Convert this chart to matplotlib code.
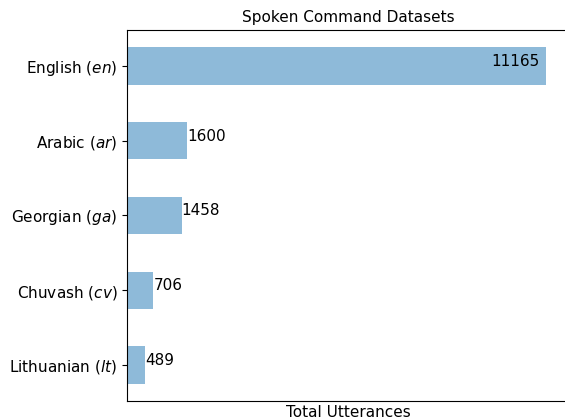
import matplotlib
matplotlib.use("Agg")
import matplotlib.pyplot as plt

# Data
languages = ["English ($en$)", "Arabic ($ar$)", "Georgian ($ga$)", "Chuvash ($cv$)", "Lithuanian ($lt$)"]
utterances = [11165, 1600, 1458, 706, 489]

plt.rcParams["font.size"] = 11

fig = plt.figure(figsize=(5.65, 4.18), dpi=100)
# axes run slightly past the right edge, as in the reference
ax = fig.add_axes([127 / 565, 17 / 418, 442 / 565, 371 / 418])

positions = list(range(len(languages)))
ax.barh(positions, utterances, height=0.5, color="tab:blue", alpha=0.5)

ax.set_yticks(positions)
ax.set_yticklabels(languages)
ax.set_ylim(4.48, -0.48)
ax.set_xlim(0, 11780)
ax.set_xticks([])
ax.set_xlabel("Total Utterances", labelpad=3)
ax.set_title("Spoken Command Datasets", fontsize=11)

# value labels: biggest one inside the bar, the rest just past the bar end
for pos, val in zip(positions, utterances):
    if val == max(utterances):
        ax.text(val - 160, pos, str(val), ha="right")
    else:
        ax.text(val, pos, str(val), ha="left")

fig.savefig("out.png", dpi=100)
